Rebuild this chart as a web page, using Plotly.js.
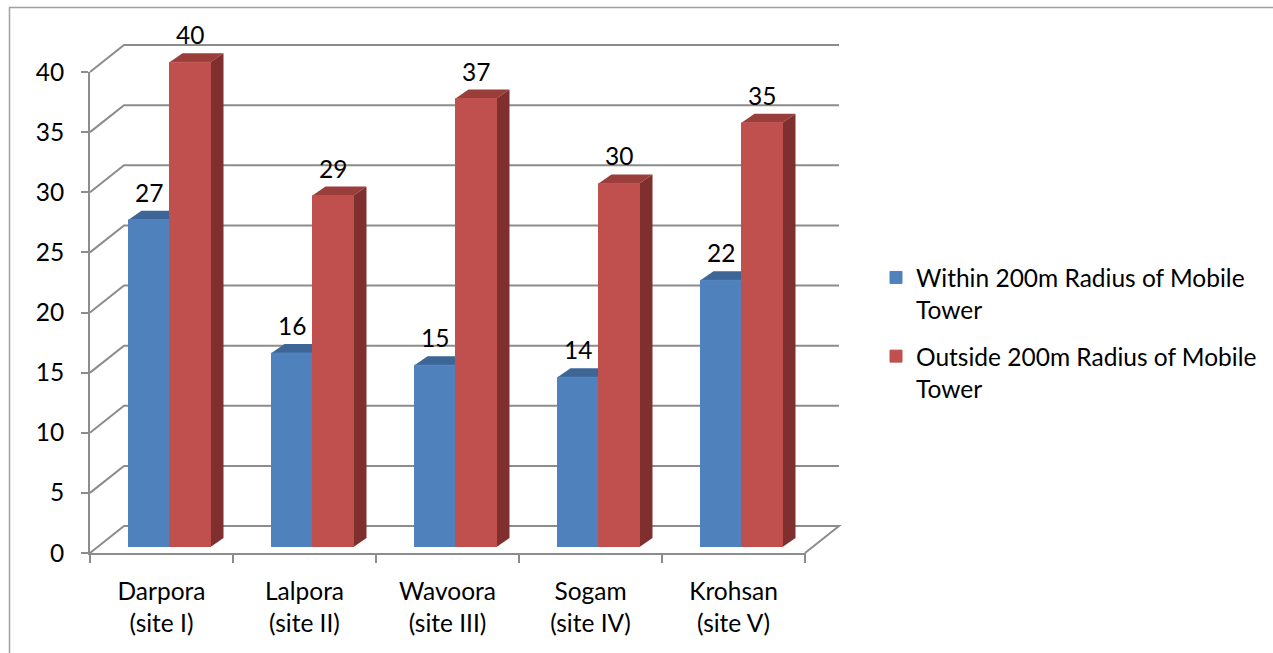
<!DOCTYPE html>
<html><head><meta charset="utf-8">
<script src="https://cdn.plot.ly/plotly-3.0.1.min.js"></script>
<style>html,body{margin:0;padding:0;background:#fff;} #chart{width:1273px;height:653px;}</style>
</head><body><div id="chart"></div>
<script>
// ---------- data ----------
const categories = ['Darpora<br>(site I)', 'Lalpora<br>(site II)', 'Wavoora<br>(site III)', 'Sogam<br>(site IV)', 'Krohsan<br>(site V)'];
const seriesNames = ['Within 200m Radius of Mobile<br>Tower', 'Outside 200m Radius of Mobile<br>Tower'];
const withinValues = [27, 16, 15, 14, 22];
const outsideValues = [40, 29, 37, 30, 35];
const yTickValues = [0, 5, 10, 15, 20, 25, 30, 35, 40];

// ---------- styling / geometry ----------
const W = 1273, H = 653;
const FONT = 'Lato, "DejaVu Sans", sans-serif';
const FS = 24.5;
const GRID = '#8c8c8c';
const frontColors = ['#4f81bd', '#c0504d'];
const topColors = ['#3d6697', '#9a3e3c'];
const sideColors = ['#31527a', '#7f302e'];

const nCat = categories.length;
const frontLeft = 90, frontRight = 805, frontBottom = 553, frontTopTick = 72;
const yMaxTick = yTickValues[yTickValues.length - 1];
const frontPPU = (frontBottom - frontTopTick) / yMaxTick;
const catPx = (frontRight - frontLeft) / nCat;
const wallDX = 34, wallDY = 27;

const barShiftX = 8, barBottom = 547, barPPU = 12.12, barTopPx = 8;
const barWpx = 41;
const barW = barWpx / catPx;
const barDX = 13, barDY = 9;
const barDYu = barDY / barPPU;
const yBarMax = (barBottom - barTopPx) / barPPU;

const xIdx = categories.map((c, i) => i);
const seriesValues = [withinValues, outsideValues];
const offsets = [-barW, 0];

// ---------- traces ----------
const traces = seriesValues.map((vals, s) => ({
  type: 'bar', name: seriesNames[s], x: xIdx, y: vals,
  xaxis: 'x2', yaxis: 'y2', width: barW, offset: offsets[s],
  marker: {color: frontColors[s], line: {color: frontColors[s], width: 1}},
  legendgroup: 'g' + s, hoverinfo: 'skip'
}));
// transparent carrier so the front (label) axes get drawn
traces.push({type: 'scatter', mode: 'markers', x: xIdx, y: outsideValues, xaxis: 'x3', yaxis: 'y3',
  marker: {opacity: 0}, showlegend: false, hoverinfo: 'skip'});

// ---------- shapes ----------
const shapes = [];
const wallLenPx = frontRight - frontLeft + wallDX;
yTickValues.forEach(v => {
  let p = `M0,0 L${wallDX},${wallDY} L${wallLenPx},${wallDY}`;
  if (v === 0) p += ` L${frontRight - frontLeft},0`;
  shapes.push({type: 'path', layer: 'below', xref: 'x', yref: 'y',
    xsizemode: 'pixel', ysizemode: 'pixel', xanchor: -0.5, yanchor: v,
    path: p, line: {color: GRID, width: 2}});
});
// category boundary tick marks on the floor's front edge
xIdx.map(i => i - 0.5).concat([nCat - 0.5]).forEach(b => {
  shapes.push({type: 'line', layer: 'below', xref: 'x', yref: 'y', x0: b, x1: b,
    ysizemode: 'pixel', yanchor: 0, y0: 0, y1: -10, line: {color: GRID, width: 2}});
});
// bar 3D faces
seriesValues.forEach((vals, s) => {
  vals.forEach((v, i) => {
    const left = xIdx[i] + offsets[s];
    shapes.push({type: 'path', layer: 'below', xref: 'x2', yref: 'y2',
      xsizemode: 'pixel', xanchor: left,
      path: `M0,${v} L${barDX},${v + barDYu} L${barDX + barWpx},${v + barDYu} L${barWpx},${v} Z`,
      fillcolor: topColors[s], line: {width: 0}});
    shapes.push({type: 'path', layer: 'below', xref: 'x2', yref: 'y2',
      xsizemode: 'pixel', xanchor: left,
      path: `M${barWpx},${v} L${barWpx + barDX},${v + barDYu} L${barWpx + barDX},${barDYu} L${barWpx},0 Z`,
      fillcolor: sideColors[s], line: {width: 0}});
  });
});
// outer border
shapes.push({type: 'path', xref: 'paper', yref: 'paper', layer: 'above',
  path: `M${9.5 / W},0 L${9.5 / W},${1 - 7.5 / H} L1,${1 - 7.5 / H}`,
  line: {color: '#a0a0a0', width: 1.5}});

// ---------- annotations (data labels) ----------
const annotations = [];
seriesValues.forEach((vals, s) => {
  vals.forEach((v, i) => {
    annotations.push({xref: 'x2', yref: 'y2', x: xIdx[i] + offsets[s] + barW / 2, y: v + barDYu,
      text: String(v), showarrow: false, yanchor: 'bottom', yshift: 2,
      font: {family: FONT, size: FS, color: '#000'}});
  });
});

// ---------- layout ----------
const layout = {
  width: W, height: H, autosize: false,
  margin: {l: 0, r: 0, t: 0, b: 0, pad: 0},
  paper_bgcolor: '#fff', plot_bgcolor: 'rgba(0,0,0,0)',
  font: {family: FONT, size: FS, color: '#000'},
  showlegend: true,
  legend: {x: 876 / W, xanchor: 'left', y: 1 - 333 / H, yanchor: 'middle',
    valign: 'top', tracegroupgap: 12, font: {family: FONT, size: FS, color: '#000'},
    bgcolor: 'rgba(0,0,0,0)'},
  barmode: 'overlay',
  xaxis: {domain: [0, 1], range: [-0.5 - frontLeft / catPx, -0.5 + (W - frontLeft) / catPx],
    visible: false, anchor: 'y', fixedrange: true},
  yaxis: {domain: [0, 1], range: [-(H - frontBottom) / frontPPU, frontBottom / frontPPU],
    visible: false, anchor: 'x', fixedrange: true},
  xaxis2: {domain: [(frontLeft + barShiftX) / W, (frontRight + barShiftX) / W], range: [-0.5, nCat - 0.5],
    visible: false, anchor: 'y2', fixedrange: true},
  yaxis2: {domain: [(H - barBottom) / H, (H - barTopPx) / H], range: [0, yBarMax],
    visible: false, anchor: 'x2', fixedrange: true},
  xaxis3: {domain: [frontLeft / W, frontRight / W], range: [-0.5, nCat - 0.5], anchor: 'y3',
    tickmode: 'array', tickvals: xIdx, ticktext: categories, ticks: '',
    showline: true, linecolor: GRID, linewidth: 2, showgrid: false, zeroline: false,
    ticklabelstandoff: 16, tickfont: {family: FONT, size: FS, color: '#000'}, fixedrange: true},
  yaxis3: {domain: [(H - frontBottom) / H, (H - frontTopTick) / H], range: [0, yMaxTick], anchor: 'x3',
    tickmode: 'array', tickvals: yTickValues, ticks: 'outside', ticklen: 7, tickwidth: 2, tickcolor: GRID,
    showline: true, linecolor: GRID, linewidth: 2, showgrid: false, zeroline: false,
    ticklabelstandoff: 12, tickfont: {family: FONT, size: FS, color: '#000'}, fixedrange: true},
  shapes: shapes,
  annotations: annotations
};

Plotly.newPlot('chart', traces, layout, {staticPlot: true, displayModeBar: false});
</script>
</body></html>
